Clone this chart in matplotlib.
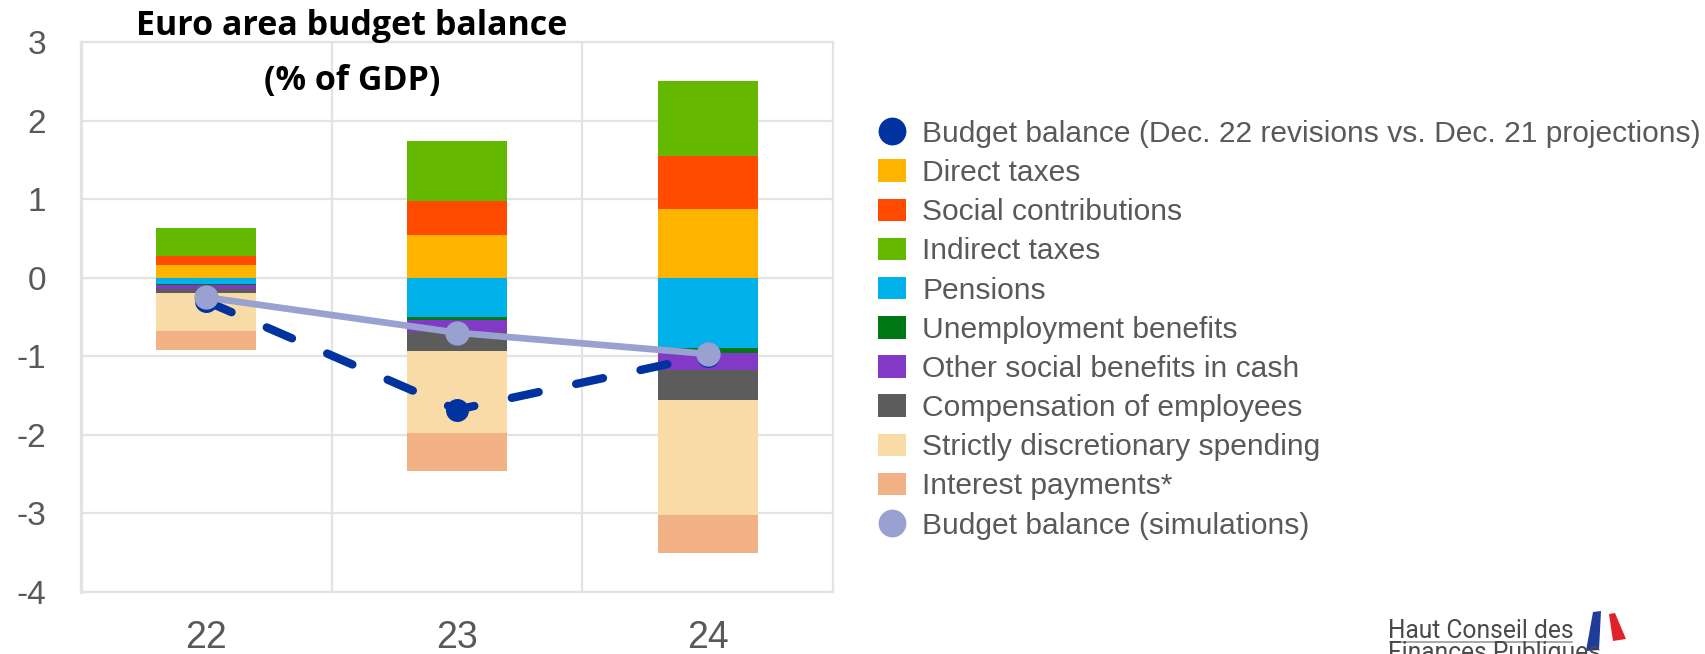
import matplotlib
matplotlib.use('Agg')
import matplotlib.pyplot as plt
from matplotlib.patches import Patch, Polygon
from matplotlib.lines import Line2D
import numpy as np

plt.rcParams['font.family'] = ['Liberation Sans', 'DejaVu Sans']
plt.rcParams['axes.unicode_minus'] = False

# revisions by component, % of GDP
years = ['22', '23', '24']
direct_taxes = [0.165, 0.547, 0.874]
social_contrib = [0.110, 0.433, 0.678]
indirect_taxes = [0.361, 0.759, 0.958]
pensions = [-0.085, -0.500, -0.890]
unemployment = [-0.010, -0.034, -0.068]
other_social = [-0.045, -0.153, -0.221]
compensation = [-0.055, -0.241, -0.373]
discretionary = [-0.488, -1.052, -1.463]
interest = [-0.233, -0.475, -0.488]
bb_revision = [-0.30, -1.68, -0.99]
bb_simulation = [-0.25, -0.70, -0.97]

pos_series = [
    (direct_taxes, 'Direct taxes', '#FFB400'),
    (social_contrib, 'Social contributions', '#FF4B00'),
    (indirect_taxes, 'Indirect taxes', '#65B800'),
]
neg_series = [
    (pensions, 'Pensions', '#00B1EA'),
    (unemployment, 'Unemployment benefits', '#007816'),
    (other_social, 'Other social benefits in cash', '#8139C6'),
    (compensation, 'Compensation of employees', '#5C5C5C'),
    (discretionary, 'Strictly discretionary spending', '#F9DBA8'),
    (interest, 'Interest payments*', '#F3B286'),
]
dark_blue = '#0033A0'
light_blue = '#98A1D0'
grid_col = '#E3E3E3'
text_col = '#595959'

W, H = 1705, 654
fig = plt.figure(figsize=(W / 100, H / 100), dpi=100)
ax = fig.add_axes([81 / W, 1 - 592 / H, (833 - 81) / W, (592 - 42) / H])

x = np.arange(len(years))
bw = 0.40

bottom = np.zeros(len(years))
for vals, name, col in pos_series:
    ax.bar(x, vals, bw, bottom=bottom, color=col, zorder=2)
    bottom += np.array(vals)
bottom = np.zeros(len(years))
for vals, name, col in neg_series:
    ax.bar(x, vals, bw, bottom=bottom, color=col, zorder=2)
    bottom += np.array(vals)

ax.plot(x, bb_revision, color=dark_blue, lw=6, ls=(0, (3.3, 4.6)),
        dash_capstyle='round', marker='o', ms=15.5, zorder=3)
ax.plot(x, bb_simulation, color=light_blue, lw=4.8, marker='o', ms=16.5,
        solid_capstyle='round', zorder=4)

ax.set_xlim(-0.5, 2.5)
ax.set_ylim(-4, 3)
ax.set_yticks(range(-4, 4))
ax.set_xticks(x)
ax.set_xticklabels(years)
ax.set_xticks([0.5, 1.5], minor=True)
ax.grid(axis='y', color=grid_col, lw=1.6, zorder=0)
ax.grid(axis='x', which='minor', color=grid_col, lw=1.6, zorder=0)
ax.grid(axis='x', which='major', visible=False)
ax.tick_params(which='both', length=0)
ax.tick_params(axis='y', labelsize=24, labelcolor=text_col, pad=25)
ax.tick_params(axis='x', labelsize=27, labelcolor=text_col, pad=20)
for sp in ax.spines.values():
    sp.set_color(grid_col)
    sp.set_linewidth(1.6)
ax.spines['left'].set_linewidth(2.4)

# title sits over the plot
fig.text(352 / W, 1 - 35 / H, 'Euro area budget balance', ha='center', va='baseline',
         fontsize=24.5, fontweight='bold', family='Open Sans', color='black')
fig.text(352 / W, 1 - 90 / H, '(% of GDP)', ha='center', va='baseline',
         fontsize=24.5, fontweight='bold', family='Open Sans', color='black')

handles = [Line2D([], [], ls='none', marker='o', ms=19, color=dark_blue)]
labels = ['Budget balance (Dec. 22 revisions vs. Dec. 21 projections)']
for vals, name, col in pos_series + neg_series:
    handles.append(Patch(facecolor=col))
    labels.append(name)
handles.append(Line2D([], [], ls='none', marker='o', ms=19, color=light_blue))
labels.append('Budget balance (simulations)')

fig.legend(handles, labels, loc='upper left', bbox_to_anchor=(878 / W, 1 - 120 / H),
           frameon=False, fontsize=21.6, labelcolor=text_col, handlelength=0.92,
           handleheight=0.78, handletextpad=0.55, labelspacing=0.372,
           borderpad=0, borderaxespad=0)

# logo, bottom right (second line runs off the bottom edge)
logo_font = ['Liberation Sans Narrow', 'Roboto']
fig.text(1388 / W, 1 - 638 / H, 'Haut Conseil des', ha='left', va='baseline',
         fontsize=17.7, family=logo_font, color='#4a4a4a')
fig.text(1388 / W, 1 - 641 / H, 'Finances Publiques', ha='left', va='top',
         fontsize=17.7, family=logo_font, color='#4a4a4a')
fig.add_artist(Line2D([1390 / W, 1572 / W], [1 - 642 / H, 1 - 642 / H],
                      color='#9a9a9a', lw=1.2, transform=fig.transFigure))
blue_flag = [(1593, 612), (1601, 611), (1599, 650), (1586, 651)]
red_flag = [(1609, 614), (1615, 613), (1626, 639), (1613, 641)]
for pts, col in [(blue_flag, '#1F3C9A'), (red_flag, '#E0232B')]:
    fig.add_artist(Polygon([(px / W, 1 - py / H) for px, py in pts], closed=True,
                           facecolor=col, edgecolor='none', transform=fig.transFigure))

fig.savefig('out.png', dpi=100)
